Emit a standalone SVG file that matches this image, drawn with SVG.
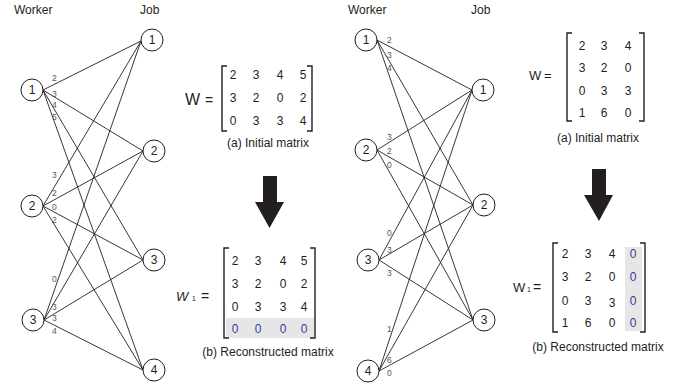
<svg xmlns="http://www.w3.org/2000/svg" width="691" height="388" viewBox="0 0 691 388">
<style>
text{font-family:"Liberation Sans",Arial,sans-serif;fill:#231f20}
.hdr{font-size:12px}
.nl{font-size:12px;text-anchor:middle}
.el{font-size:8.5px;fill:#555}
.m{font-size:12px;text-anchor:middle}
.b{fill:#3a3a9c}
.cap{font-size:12px;text-anchor:middle}
.nd{fill:#fff;stroke:#231f20;stroke-width:1}
.e{stroke:#231f20;stroke-width:0.9;fill:none}
.br{stroke:#231f20;stroke-width:1.4;fill:none}
.arr{fill:#231f20}
</style>
<rect width="691" height="388" fill="#fff"/>
<text class="hdr" x="14" y="14">Worker</text>
<text class="hdr" x="140" y="14">Job</text>
<text class="hdr" x="348" y="14">Worker</text>
<text class="hdr" x="471" y="14">Job</text>
<g id="connectors">
<path class="e" d="M43,90L141,41M43,90L143,151M43,90L143,260M43,90L143,370"/>
<path class="e" d="M43,206L141,41M43,206L143,151M43,206L143,260M43,206L143,370"/>
<path class="e" d="M44,320L141,41M44,320L143,151M44,320L143,260M44,320L143,370"/>
<path class="e" d="M377,40L472,90M377,40L473,205M377,40L473,320"/>
<path class="e" d="M377,150L472,90M377,150L473,205M377,150L473,320"/>
<path class="e" d="M379,260L472,90M379,260L473,205M379,260L473,320"/>
<path class="e" d="M379,371L472,90M379,371L473,205M379,371L473,320"/>
</g>
<g id="edge-labels">
<text class="el" x="52" y="81">2</text><text class="el" x="52" y="97">3</text><text class="el" x="52" y="108">4</text><text class="el" x="52" y="120">5</text>
<text class="el" x="52" y="178">3</text><text class="el" x="52" y="196">2</text><text class="el" x="52" y="210">0</text><text class="el" x="52" y="223">2</text>
<text class="el" x="52" y="282">0</text><text class="el" x="52" y="310">3</text><text class="el" x="52" y="321">3</text><text class="el" x="52" y="334">4</text>
<text class="el" x="387" y="43">2</text><text class="el" x="387" y="58">3</text><text class="el" x="387" y="71">4</text>
<text class="el" x="387" y="140">3</text><text class="el" x="387" y="154">2</text><text class="el" x="387" y="168">0</text>
<text class="el" x="387" y="236">0</text><text class="el" x="387" y="253">3</text><text class="el" x="387" y="276">3</text>
<text class="el" x="387" y="332">1</text><text class="el" x="387" y="363">6</text><text class="el" x="387" y="376">0</text>
</g>
<g id="L-worker-1"><circle class="nd" cx="32" cy="90" r="11"/><text class="nl" x="32" y="94">1</text></g>
<g id="L-worker-2"><circle class="nd" cx="32" cy="206" r="11"/><text class="nl" x="32" y="210">2</text></g>
<g id="L-worker-3"><circle class="nd" cx="33" cy="320" r="11"/><text class="nl" x="33" y="324">3</text></g>
<g id="L-job-1"><circle class="nd" cx="152" cy="40" r="11"/><text class="nl" x="152" y="44">1</text></g>
<g id="L-job-2"><circle class="nd" cx="154" cy="151" r="11"/><text class="nl" x="154" y="155">2</text></g>
<g id="L-job-3"><circle class="nd" cx="154" cy="260" r="11"/><text class="nl" x="154" y="264">3</text></g>
<g id="L-job-4"><circle class="nd" cx="154" cy="370" r="11"/><text class="nl" x="154" y="374">4</text></g>
<g id="R-worker-1"><circle class="nd" cx="366" cy="40" r="11"/><text class="nl" x="366" y="44">1</text></g>
<g id="R-worker-2"><circle class="nd" cx="366" cy="150" r="11"/><text class="nl" x="366" y="154">2</text></g>
<g id="R-worker-3"><circle class="nd" cx="368" cy="260" r="11"/><text class="nl" x="368" y="264">3</text></g>
<g id="R-worker-4"><circle class="nd" cx="368" cy="371" r="11"/><text class="nl" x="368" y="375">4</text></g>
<g id="R-job-1"><circle class="nd" cx="483" cy="90" r="11"/><text class="nl" x="483" y="94">1</text></g>
<g id="R-job-2"><circle class="nd" cx="484" cy="205" r="11"/><text class="nl" x="484" y="209">2</text></g>
<g id="R-job-3"><circle class="nd" cx="484" cy="320" r="11"/><text class="nl" x="484" y="324">3</text></g>
<g id="L-matrix-a">
<text x="185" y="105" style="font-size:16px">W</text><text x="205" y="105" style="font-size:14px">=</text>
<path class="br" d="M227,66H222V131H227M307,66H312V131H307"/>
<text class="m" x="233" y="79">2</text><text class="m" x="256" y="79">3</text><text class="m" x="280" y="79">4</text><text class="m" x="303" y="79">5</text>
<text class="m" x="233" y="102">3</text><text class="m" x="256" y="102">2</text><text class="m" x="280" y="102">0</text><text class="m" x="303" y="102">2</text>
<text class="m" x="233" y="125">0</text><text class="m" x="256" y="125">3</text><text class="m" x="280" y="125">3</text><text class="m" x="303" y="125">4</text>
<text class="cap" x="268" y="147">(a) Initial matrix</text>
</g>
<g id="L-arrow"><polygon class="arr" points="263,176 277,176 277,202 284,202 269.5,228 255,202 263,202"/></g>
<g id="L-matrix-b">
<rect x="226" y="318" width="88" height="20" fill="#e6e6e6"/>
<text x="176" y="301" style="font-size:13px;font-style:italic">W</text><text x="192" y="301" style="font-size:7px">1</text><text x="201" y="301" style="font-size:14px">=</text>
<path class="br" d="M229,248H224V338H229M310,248H315V338H310"/>
<text class="m" x="235" y="265">2</text><text class="m" x="258" y="265">3</text><text class="m" x="283" y="265">4</text><text class="m" x="304" y="265">5</text>
<text class="m" x="235" y="288">3</text><text class="m" x="258" y="288">2</text><text class="m" x="283" y="288">0</text><text class="m" x="304" y="288">2</text>
<text class="m" x="235" y="311">0</text><text class="m" x="258" y="311">3</text><text class="m" x="283" y="311">3</text><text class="m" x="304" y="311">4</text>
<text class="m b" x="235" y="333">0</text><text class="m b" x="258" y="333">0</text><text class="m b" x="283" y="333">0</text><text class="m b" x="304" y="333">0</text>
<text class="cap" x="268" y="356">(b) Reconstructed matrix</text>
</g>
<g id="R-matrix-a">
<text x="529" y="80" style="font-size:13px">W</text><text x="544" y="80" style="font-size:13px">=</text>
<path class="br" d="M572,33H567V121H572M639,33H644V121H639"/>
<text class="m" x="582" y="50">2</text><text class="m" x="604" y="50">3</text><text class="m" x="628" y="50">4</text>
<text class="m" x="582" y="72">3</text><text class="m" x="604" y="72">2</text><text class="m" x="628" y="72">0</text>
<text class="m" x="582" y="95">0</text><text class="m" x="604" y="95">3</text><text class="m" x="628" y="95">3</text>
<text class="m" x="582" y="117">1</text><text class="m" x="604" y="117">6</text><text class="m" x="628" y="117">0</text>
<text class="cap" x="598" y="142">(a) Initial matrix</text>
</g>
<g id="R-arrow"><polygon class="arr" points="592,169 606,169 606,195 613,195 599,221 584,195 592,195"/></g>
<g id="R-matrix-b">
<rect x="625" y="247" width="17" height="84" fill="#e6e6e6"/>
<text x="513" y="292" style="font-size:13px">W</text><text x="527" y="292" style="font-size:7px">1</text><text x="533" y="292" style="font-size:14px">=</text>
<path class="br" d="M558,243H553V332H558M640,243H645V332H640"/>
<text class="m" x="565" y="258">2</text><text class="m" x="588" y="258">3</text><text class="m" x="612" y="258">4</text><text class="m b" x="633" y="258">0</text>
<text class="m" x="565" y="281">3</text><text class="m" x="588" y="281">2</text><text class="m" x="612" y="281">0</text><text class="m b" x="633" y="281">0</text>
<text class="m" x="565" y="305">0</text><text class="m" x="588" y="305">3</text><text class="m" x="612" y="307">3</text><text class="m b" x="633" y="305">0</text>
<text class="m" x="565" y="327">1</text><text class="m" x="588" y="327">6</text><text class="m" x="612" y="327">0</text><text class="m b" x="633" y="327">0</text>
<text class="cap" x="598" y="351">(b) Reconstructed matrix</text>
</g>
</svg>
